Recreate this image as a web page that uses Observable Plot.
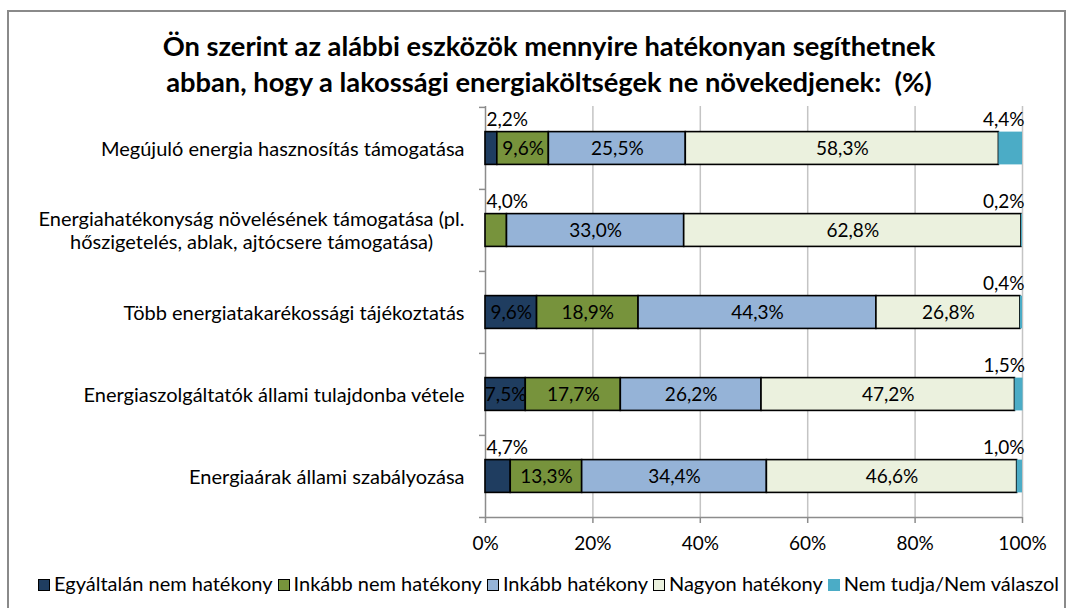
<!DOCTYPE html>
<html>
<head>
<meta charset="utf-8">
<script src="https://cdn.jsdelivr.net/npm/d3@7"></script>
<script src="https://cdn.jsdelivr.net/npm/@observablehq/plot@0.6"></script>
<style>
  body { margin: 0; background: #fff; font-family: Lato, "Open Sans", sans-serif; color: #000; }
  #wrap { position: relative; width: 1067px; height: 608px; overflow: hidden; background: #fff; }
  #frame { position: absolute; left: 7px; top: 10px; width: 1059px; height: 640px; border: 2px solid #8a8a8a; box-sizing: border-box; }
  #title { position: absolute; left: 0; top: 28px; width: 1098px; text-align: center; font-weight: bold; font-size: 27.3px; line-height: 36px; white-space: pre; }
  #chart { position: absolute; left: 0; top: 100px; }
  #legend { position: absolute; left: 38px; top: 571px; width: 1026px; white-space: nowrap; font-size: 20px; line-height: 24px; }
  .item { display: inline-block; margin-right: 5px; }
  .sw { display: inline-block; width: 10px; height: 10px; border: 1.5px solid #000; margin-right: 4px; vertical-align: 0px; }
</style>
</head>
<body>
<div id="wrap">
  <div id="frame"></div>
  <div id="title"></div>
  <div id="chart"></div>
  <div id="legend"></div>
</div>
<script>
const titleLines = [
  "Ön szerint az alábbi eszközök mennyire hatékonyan segíthetnek",
  "abban, hogy a lakossági energiaköltségek ne növekedjenek:  (%)"
];
const categories = [
  "Megújuló energia hasznosítás támogatása",
  "Energiahatékonyság növelésének támogatása (pl.\nhőszigetelés, ablak, ajtócsere támogatása)",
  "Több energiatakarékossági tájékoztatás",
  "Energiaszolgáltatók állami tulajdonba vétele",
  "Energiaárak állami szabályozása"
];
const seriesNames = ["Egyáltalán nem hatékony", "Inkább nem hatékony", "Inkább hatékony", "Nagyon hatékony", "Nem tudja/Nem válaszol"];
const seriesColors = ["#1f3d60", "#77933c", "#95b3d7", "#ebf1de", "#4bacc6"];
const egyaltalanNem = [2.2, 0, 9.6, 7.5, 4.7];
const inkabbNem = [9.6, 4.0, 18.9, 17.7, 13.3];
const inkabbHatekony = [25.5, 33.0, 44.3, 26.2, 34.4];
const nagyonHatekony = [58.3, 62.8, 26.8, 47.2, 46.6];
const nemTudja = [4.4, 0.2, 0.4, 1.5, 1.0];
const xTicks = [0, 20, 40, 60, 80, 100];
const xTickLabels = ["0%", "20%", "40%", "60%", "80%", "100%"];

const seriesValues = [egyaltalanNem, inkabbNem, inkabbHatekony, nagyonHatekony, nemTudja];
const rows = [];
categories.forEach((c, i) => seriesNames.forEach((s, j) => rows.push({cat: c, series: s, si: j, value: seriesValues[j][i]})));
const fmt = v => v.toFixed(1).replace(".", ",") + "%";

document.getElementById("title").textContent = titleLines.join("\n");

const H = 460, mT = 6, mB = 43;
const step = (H - mT - mB) / categories.length;
const barH = 33;
const inset = (step - barH) / 2;
const grey = "#8c8c8c";

const plot = Plot.plot({
  width: 1067,
  height: H,
  marginLeft: 485,
  marginRight: 45,
  marginTop: mT,
  marginBottom: mB,
  style: {fontFamily: "Lato, 'Open Sans', sans-serif", fontSize: "19px", color: "#000", background: "transparent"},
  x: {domain: [0, 100], axis: null},
  y: {domain: categories, padding: 0, axis: null},
  color: {domain: seriesNames, range: seriesColors},
  opacity: {domain: [0, 1], range: [0, 1]},
  marks: [
    Plot.ruleX(xTicks.slice(1), {stroke: "#c4c4c4", strokeWidth: 1.5}),
    Plot.ruleX([0], {stroke: grey, strokeWidth: 1.5}),
    Plot.ruleY(categories, {y: d => d, dy: -step / 2, x1: 0, x2: 0, insetLeft: -6, stroke: grey, strokeWidth: 1.5}),
    Plot.ruleY(categories.slice(-1), {y: d => d, dy: step / 2, x1: 0, x2: 100, insetLeft: -6, stroke: grey, strokeWidth: 1.5}),
    Plot.axisX({ticks: xTicks, tickFormat: d => xTickLabels[xTicks.indexOf(d)], label: null, tickSize: 6, tickPadding: 13, stroke: grey, strokeWidth: 1.5, fill: "#000", fontSize: 19}),
    Plot.axisY({label: null, tickSize: 0, tickPadding: 21, lineHeight: 1.15, fill: "#000", fontSize: 20}),
    Plot.barX(rows, Plot.stackX({x: "value", y: "cat", z: "series", fill: "series", stroke: "#000", strokeWidth: 1.6, strokeOpacity: d => d.si === 4 ? 0 : 1, insetTop: inset, insetBottom: inset})),
    Plot.text(rows, Plot.stackX({x: "value", y: "cat", z: "series", text: d => d.value >= 5 ? fmt(d.value) : null, fill: "#000", fontSize: 19})),
    Plot.text(rows, Plot.stackX1({x: "value", y: "cat", z: "series", text: d => (d.value > 0 && d.value < 5 && d.si < 4) ? fmt(d.value) : null, textAnchor: "start", dx: 1, dy: -29, fill: "#000", fontSize: 19})),
    Plot.text(rows, Plot.stackX2({x: "value", y: "cat", z: "series", text: d => d.si === 4 ? fmt(d.value) : null, textAnchor: "end", dx: 2, dy: -29, fill: "#000", fontSize: 19}))
  ]
});
document.getElementById("chart").appendChild(plot);

// centre the lines of multi-line category labels on each other (as in the original)
plot.querySelectorAll("text").forEach(t => {
  const spans = t.querySelectorAll("tspan");
  if (spans.length > 1) {
    const bb = t.getBBox();
    const cx = bb.x + bb.width / 2;
    t.setAttribute("text-anchor", "middle");
    spans.forEach(s => s.setAttribute("x", cx));
  }
});

const legend = document.getElementById("legend");
seriesNames.forEach((s, j) => {
  const item = document.createElement("span");
  item.className = "item";
  const sw = document.createElement("span");
  sw.className = "sw";
  sw.style.background = seriesColors[j];
  if (j === 4) { sw.style.borderColor = seriesColors[j]; }
  item.appendChild(sw);
  item.appendChild(document.createTextNode(s));
  legend.appendChild(item);
});
</script>
</body>
</html>
